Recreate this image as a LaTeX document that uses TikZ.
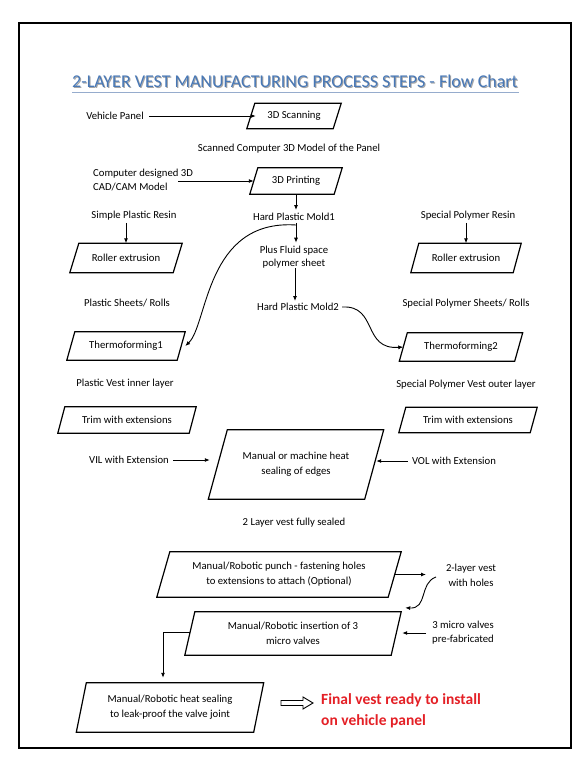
\documentclass[tikz,border=0pt]{standalone}
\usepackage{fontspec}
\setmainfont{Carlito}
\usetikzlibrary{arrows.meta}
\definecolor{titleblue}{RGB}{72,120,182}
\definecolor{titleshadow}{RGB}{165,165,165}
\definecolor{titleline}{RGB}{150,172,205}
\definecolor{finalred}{RGB}{228,32,38}
\tikzset{
  txt/.style={font=\fontsize{10.7}{15}\selectfont, inner sep=0pt, align=center},
  boxline/.style={line width=1.2pt, line join=miter},
  arr/.style={-{Latex[length=5pt,width=4pt]}, line width=0.9pt},
}
\newcommand\mypara[7]{%
  \node[txt, minimum width=#4pt, minimum height=#5pt] (#1) at (#2,#3) {#7};
  \draw[boxline] ([xshift=#6/2]#1.north west) -- ([xshift=#6/2]#1.north east)
     -- ([xshift=-#6/2]#1.south east) -- ([xshift=-#6/2]#1.south west) -- cycle;}
\begin{document}
\begin{tikzpicture}[x=1pt,y=-1pt]
\useasboundingbox (0,0) rectangle (586,769);
\fill[white] (0,0) rectangle (586,769);
% frame
\draw[line width=2.4pt] (19,23) rectangle (571,748);
% title
\node[font=\fontsize{18}{20}\selectfont, text=titleshadow, inner sep=0pt] (tshadow) at (296,82) {2-LAYER VEST MANUFACTURING PROCESS STEPS - Flow Chart};
\node[font=\fontsize{18}{20}\selectfont, text=titleblue, inner sep=0pt] (title) at (295,81) {2-LAYER VEST MANUFACTURING PROCESS STEPS - Flow Chart};
\draw[titleline, line width=0.6pt] (72,92) -- (519,92);

% top chain
\node[txt] (vp) at (115,116) {Vehicle Panel};
\mypara{scan}{294}{116}{86}{25}{8}{3D Scanning}
\draw[arr] ([xshift=5]vp.east) -- ([xshift=5]vp.east -| scan.west);
\node[txt] (scanned) at (289,149) {Scanned Computer 3D Model of the Panel};
\node[txt, align=left, anchor=west, font=\fontsize{10.7}{14}\selectfont] (cad) at (93,180) {Computer designed 3D\\CAD/CAM Model};
\mypara{print}{296}{181}{84}{26}{8}{3D Printing}
\coordinate (cadout) at (178,181);
\draw[arr] (cadout) -- (print.west);
\node[txt] (mold1) at (294,217) {Hard Plastic Mold1};
\draw[arr] (print.south) -- ([yshift=3]print.south |- mold1.north);
\node[txt, font=\fontsize{10.7}{13}\selectfont] (fluid) at (294,257) {Plus Fluid space\\polymer sheet};
\draw[arr] ([xshift=2,yshift=-2]mold1.south) -- ([xshift=2,yshift=3]mold1.south |- fluid.north);
\node[txt] (mold2) at (298,307) {Hard Plastic Mold2};
\draw[arr] ([xshift=1]fluid.south) -- ([xshift=1,yshift=2]fluid.south |- mold2.north);

% left column
\node[txt] (spr) at (134,216) {Simple Plastic Resin};
\mypara{roll1}{126}{258}{103}{29}{9}{Roller extrusion}
\draw[arr] ([yshift=-2]spr.south -| roll1.north) -- (roll1.north);
\node[txt] (sps) at (127,303) {Plastic Sheets/ Rolls};
\mypara{thermo1}{126}{346}{110}{28}{8}{Thermoforming1}
\node[txt] (pvi) at (125,384) {Plastic Vest inner layer};
\mypara{trim1}{127}{420}{131}{26}{7}{Trim with extensions}

% right column
\node[txt] (spr2) at (468,216) {Special Polymer Resin};
\mypara{roll2}{466}{258}{102}{29}{8}{Roller extrusion}
\draw[arr] ([yshift=-2]spr2.south -| roll2.north) -- (roll2.north);
\node[txt] (spsr) at (466,304) {Special Polymer Sheets/ Rolls};
\mypara{thermo2}{461}{347}{115}{28}{8}{Thermoforming2}
\node[txt] (spvo) at (466,385) {Special Polymer Vest outer layer};
\mypara{trim2}{468}{420}{131}{25}{7}{Trim with extensions}

% curves from molds
\coordinate (split1) at (296,225);
\draw[arr] (split1) .. controls (205,219) and (208,325) .. ([xshift=4]thermo1.east);
\draw[arr] ([xshift=3]mold2.east) .. controls (378,305) and (362,350) .. (thermo2.west);

% heat sealing
\mypara{heat}{296}{464.5}{156}{69}{19}{Manual or machine heat\\sealing of edges}
\node[txt] (vil) at (129,460) {VIL with Extension};
\draw[arr] ([xshift=4]vil.east) -- ([xshift=-8]vil.east -| heat.west);
\node[txt] (vol) at (454,461) {VOL with Extension};
\draw[arr] ([xshift=-4]vol.west) -- ([xshift=2]vol.west -| heat.east);
\node[txt] (sealed) at (294,523) {2 Layer vest fully sealed};

% punch
\mypara{punch}{279}{574.5}{231}{45}{13}{Manual/Robotic punch - fastening holes\\to extensions to attach (Optional)}
\node[txt] (holes) at (471,575.5) {2-layer vest\\with holes};
\coordinate (holesin) at (426,574.5);
\draw[arr] (punch.east) -- (holesin);

% insertion
\mypara{insert}{293}{633.5}{206}{43}{10}{Manual/Robotic insertion of 3\\micro valves}
\coordinate (holesout) at (436,577);
\draw[arr] (holesout) .. controls (419,583) and (428,609) .. ([xshift=9,yshift=4]insert.north east);
\node[txt, font=\fontsize{10.7}{14}\selectfont] (valves) at (463,633) {3 micro valves\\pre-fabricated};
\draw[arr] ([xshift=-6]valves.west) -- ([xshift=6]valves.west -| insert.east);

% final
\mypara{final}{170}{707.5}{177}{49}{10}{Manual/Robotic heat sealing\\to leak-proof the valve joint}
\draw[arr] ([yshift=1]insert.west) -| ([xshift=-7,yshift=5]final.north);
\draw[line width=0.9pt, line join=miter] (281,700.5) -- (303,700.5) -- (303,697) -- (313,703) -- (303,709) -- (303,705.5) -- (281,705.5) -- cycle;
\node[font=\bfseries\fontsize{15.5}{21}\selectfont, text=finalred, inner sep=0pt, align=left, anchor=west] (finaltxt) at (321,710.5) {Final vest ready to install\\on vehicle panel};
\end{tikzpicture}
\end{document}
